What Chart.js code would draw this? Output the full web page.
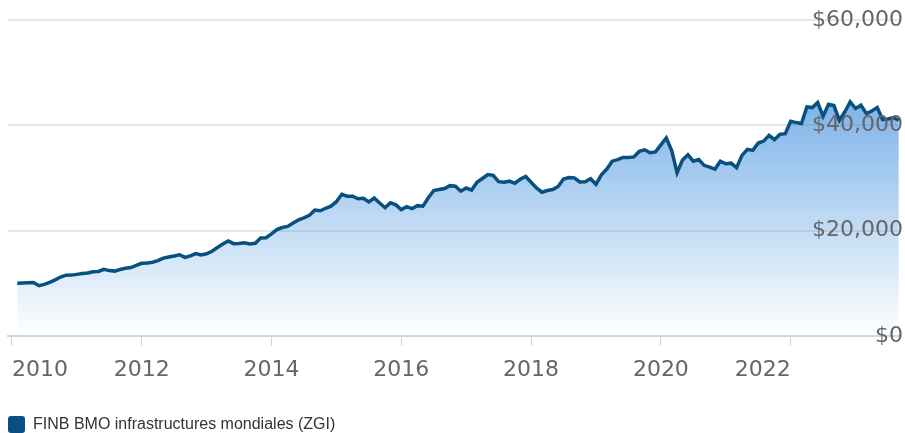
<!DOCTYPE html>
<html>
<head>
<meta charset="utf-8">
<script src="https://cdn.jsdelivr.net/npm/chart.js@4"></script>
<style>
  html, body { margin: 0; padding: 0; background: #fff; overflow: hidden; }
  #wrap { width: 905px; height: 433px; }
</style>
</head>
<body>
<div id="wrap"><canvas id="growth"></canvas></div>
<script>
  // growth of $10,000, monthly closes starting end of Jan 2010
  const seriesName = "FINB BMO infrastructures mondiales (ZGI)";
  const startYear = 2010;
  const values = [
    10000, 10080, 10120, 10150, 9550, 9800, 10200, 10650, 11200, 11550, 11560, 11700,
    11850, 11950, 12190, 12260, 12650, 12420, 12320, 12620, 12850, 13000, 13400, 13800,
    13880, 14000, 14300, 14800, 15000, 15200, 15430, 14920, 15200, 15650, 15400, 15600,
    16100, 16800, 17450, 18050, 17530, 17570, 17700, 17470, 17600, 18610, 18670, 19400,
    20200, 20600, 20800, 21470, 22050, 22450, 22900, 23900, 23780, 24250, 24650, 25500,
    26900, 26540, 26540, 26050, 26150, 25450, 26200, 25250, 24350, 25300, 24900, 24000,
    24550, 24200, 24750, 24650, 26250, 27600, 27800, 28000, 28550, 28440, 27500, 28100,
    27700, 29200, 29900, 30650, 30500, 29300, 29200, 29400, 29000, 29750, 30280, 29200,
    28130, 27300, 27620, 27800, 28400, 29800, 30100, 30030, 29250, 29280, 29850, 28800,
    30600, 31700, 33200, 33480, 33910, 33910, 34000, 35050, 35350, 34800, 34950, 36300,
    37600, 35200, 31000, 33400, 34400, 33200, 33500, 32400, 32050, 31700, 33200, 32700,
    32820, 31950, 34300, 35430, 35240, 36630, 37010, 38100, 37280, 38290, 38420, 40770,
    40520, 40330, 43490, 43370, 44330, 41720, 44000, 43760, 40960, 42540, 44450, 43190,
    43820, 42230, 42730, 43370, 41090, 41200, 41470, 40960
  ];
  const yearTicks = [2010, 2012, 2014, 2016, 2018, 2020, 2022];
  const valueTicks = [0, 20000, 40000, 60000];

  const lineColor = "#07507f";
  const points = values.map((v, i) => ({ x: startYear + (i + 1) / 12, y: v }));

  // blue fading to nothing at the baseline, slightly see-through so the grid shows
  function areaFill(context) {
    const { ctx, chartArea } = context.chart;
    if (!chartArea) return "rgba(50,135,219,0.4)";
    const g = ctx.createLinearGradient(0, chartArea.top, 0, chartArea.bottom);
    g.addColorStop(0, "rgba(50,135,219,0.85)");
    g.addColorStop(1, "rgba(50,135,219,0)");
    return g;
  }

  const axisFont = { family: "DejaVu Sans", size: 22 };

  new Chart(document.getElementById("growth"), {
    type: "line",
    data: {
      datasets: [{
        label: seriesName,
        data: points,
        borderColor: lineColor,
        borderWidth: 3.5,
        backgroundColor: areaFill,
        fill: "origin",
        pointRadius: 0,
        tension: 0,
      }],
    },
    options: {
      responsive: true,
      maintainAspectRatio: false,
      animation: false,
      layout: { padding: { left: 8, right: 0, top: 20, bottom: -10 } },
      plugins: {
        tooltip: { enabled: false },
        legend: {
          position: "bottom",
          align: "start",
          labels: {
            font: { family: "Liberation Sans", size: 16 },
            color: "#333",
            boxWidth: 17,
            boxHeight: 17,
            padding: 0,
            useBorderRadius: true,
            borderRadius: 3,
            generateLabels: (chart) => chart.data.datasets.map((ds, i) => ({
              text: ds.label,
              fillStyle: lineColor,
              strokeStyle: lineColor,
              lineWidth: 0,
              borderRadius: 3,
              fontColor: "#333",
              datasetIndex: i,
              hidden: false,
            })),
          },
        },
      },
      scales: {
        x: {
          type: "linear",
          min: 2009.94,
          max: 2023.7,
          afterBuildTicks: (scale) => {
            scale.ticks = yearTicks.map((v) => ({ value: v }));
          },
          afterFit: (scale) => {
            scale.height = 80;
          },
          ticks: {
            font: axisFont,
            color: "#666",
            padding: 11,
            align: "inner",
            maxRotation: 0,
            autoSkip: false,
            callback: (v) => String(v),
          },
          grid: {
            drawOnChartArea: false,
            drawTicks: true,
            tickLength: 10,
            tickColor: "#ccd6eb",
            color: "#ccd6eb",
          },
          border: { display: true, color: "#ccd6eb", width: 2 },
        },
        y: {
          position: "right",
          min: 0,
          max: 60000,
          afterBuildTicks: (scale) => {
            scale.ticks = valueTicks.map((v) => ({ value: v }));
          },
          ticks: {
            z: 1,
            mirror: true,
            padding: 2,
            font: axisFont,
            color: "#666",
            callback: (v) => "$" + v.toLocaleString("en-US"),
          },
          grid: {
            color: "#e6e6e6",
            lineWidth: 2,
            drawTicks: false,
          },
          border: { display: false },
        },
      },
    },
  });
</script>
</body>
</html>
